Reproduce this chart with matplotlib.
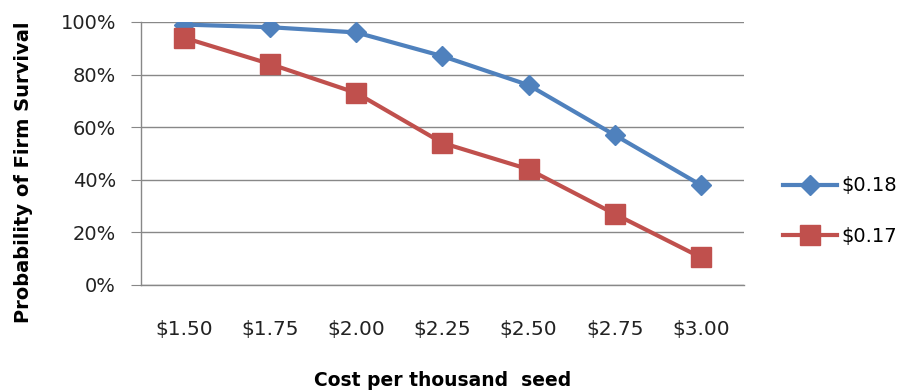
import matplotlib
matplotlib.use("Agg")
import matplotlib.pyplot as plt
from matplotlib.ticker import PercentFormatter

plt.rcParams['text.parse_math'] = False
plt.rcParams['font.family'] = ['DejaVu Sans']

categories = ["$1.50", "$1.75", "$2.00", "$2.25", "$2.50", "$2.75", "$3.00"]
series_018 = [99, 98, 96, 87, 76, 57, 38]
series_017 = [94, 84, 73, 54, 44, 27, 10.5]
series_labels = ["$0.18", "$0.17"]

fig = plt.figure(figsize=(9.05, 3.92), dpi=100)
ax = fig.add_axes([0.1558, 0.273, 0.822 - 0.1558, 0.944 - 0.273])

x = range(len(categories))
ax.plot(x, series_018, color="#4F81BD", lw=3, marker="D", markersize=10.5,
        label=series_labels[0], zorder=3)
ax.plot(x, series_017, color="#C0504D", lw=3, marker="s", markersize=14,
        label=series_labels[1], zorder=3)

ax.set_xlim(-0.5, len(categories) - 0.5)
ax.set_ylim(0, 100)
ax.set_yticks(range(0, 101, 20))
ax.yaxis.set_major_formatter(PercentFormatter(decimals=0))
ax.set_xticks(list(x))
ax.set_xticklabels(categories)

ax.grid(axis="y", color="#888888", lw=1)
ax.set_axisbelow(True)
for s in ["top", "right"]:
    ax.spines[s].set_visible(False)
for s in ["left", "bottom"]:
    ax.spines[s].set_color("#888888")
    ax.spines[s].set_linewidth(1)

tick_color = "#222222"
ax.tick_params(axis="y", length=7, color="#888888", labelsize=14, pad=11,
               labelcolor=tick_color)
ax.tick_params(axis="x", length=0, labelsize=14.5, pad=25, labelcolor=tick_color)

ax.set_xlabel("Cost per thousand  seed", fontsize=13.5, fontweight="bold")
ax.xaxis.set_label_coords(0.5, -0.327)
ax.set_ylabel("Probability of Firm Survival", fontsize=14, fontweight="bold")
ax.yaxis.set_label_coords(-0.179, 0.43)

ax.legend(loc="center left", bbox_to_anchor=(783 / 905, 1 - 211 / 392),
          bbox_transform=fig.transFigure, frameon=False, borderpad=0,
          borderaxespad=0, fontsize=14, handlelength=2.8, handletextpad=0.2,
          labelspacing=1.6)

fig.savefig("out.png", dpi=100)
